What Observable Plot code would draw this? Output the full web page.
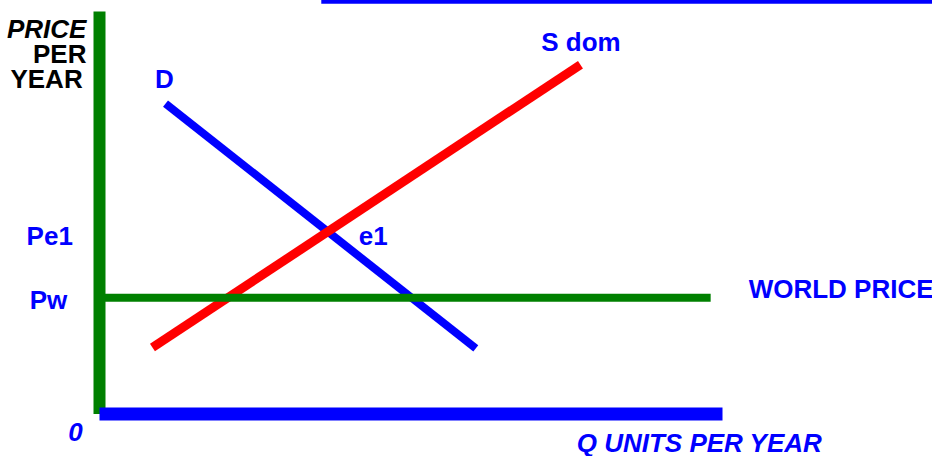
<!DOCTYPE html>
<html>
<head>
<meta charset="utf-8">
<script src="https://cdn.jsdelivr.net/npm/d3@7"></script>
<script src="https://cdn.jsdelivr.net/npm/@observablehq/plot@0.6"></script>
<style>
  html, body { margin: 0; padding: 0; background: #fff; }
  svg { overflow: visible; display: block; }
</style>
</head>
<body>
<div id="chart"></div>
<script>
// Curves (Q units, price units)
const demand = [{q: 10.6, p: 77.1}, {q: 60.4, p: 16.3}];
const supplyDom = [{q: 8.5, p: 16.5}, {q: 77.2, p: 86.8}];
const worldPrice = [{q: 0, p: 28.9}, {q: 98.1, p: 28.9}];
const topRule = [{q: 35.6, p: 102.7}, {q: 135, p: 102.7}];
const yAxisLine = [{q: 0, p: 0}, {q: 0, p: 100}];
const xAxisLine = [{q: 0, p: 0}, {q: 100, p: 0}];

// Text labels
const blackLabels = [
  {q: -2.1, p: 93.5, text: "PRICE", italic: true},
  {q: -2.1, p: 87.1, text: "PER", italic: false},
  {q: -2.7, p: 80.9, text: "YEAR", italic: false}
];
const blueLabels = [
  {q: 10.4, p: 80.9, text: "D", anchor: "middle", italic: false},
  {q: 70.9, p: 90.3, text: "S dom", anchor: "start", italic: false},
  {q: 41.6, p: 41.9, text: "e1", anchor: "start", italic: false},
  {q: -11.7, p: 41.9, text: "Pe1", anchor: "start", italic: false},
  {q: -11.2, p: 26.2, text: "Pw", anchor: "start", italic: false},
  {q: 104.2, p: 28.9, text: "WORLD PRICE", anchor: "start", italic: false},
  {q: -5.0, p: -6.6, text: "0", anchor: "start", italic: true},
  {q: 76.6, p: -9.5, text: "Q UNITS PER YEAR", anchor: "start", italic: true}
];

const font = "'Liberation Sans', Arial, sans-serif";
const BLUE = "#0000ff", RED = "#ff0000", GREEN = "#008000";

function textMarks(data, fill, anchorDefault) {
  const out = [];
  const groups = d3.groups(data, d => (d.anchor || anchorDefault) + "|" + d.italic);
  for (const [key, arr] of groups) {
    const [anchor, it] = key.split("|");
    out.push(Plot.text(arr, {
      x: "q", y: "p", text: "text",
      textAnchor: anchor, lineAnchor: "bottom",
      fill, fontSize: 26, fontWeight: "bold", fontFamily: font,
      fontStyle: it === "true" ? "italic" : "normal"
    }));
  }
  return out;
}

const chart = Plot.plot({
  width: 932,
  height: 456,
  marginLeft: 99,
  marginRight: 210,
  marginTop: 11,
  marginBottom: 42.5,
  x: {domain: [0, 100], axis: null},
  y: {domain: [0, 100], axis: null},
  style: {background: "#fff", overflow: "visible"},
  marks: [
    Plot.line(topRule, {x: "q", y: "p", stroke: BLUE, strokeWidth: 6, strokeLinecap: "butt"}),
    Plot.line(demand, {x: "q", y: "p", stroke: BLUE, strokeWidth: 8, strokeLinecap: "butt"}),
    Plot.line(supplyDom, {x: "q", y: "p", stroke: RED, strokeWidth: 9, strokeLinecap: "butt"}),
    Plot.line(worldPrice, {x: "q", y: "p", stroke: GREEN, strokeWidth: 8, strokeLinecap: "butt"}),
    Plot.line(yAxisLine, {x: "q", y: "p", stroke: GREEN, strokeWidth: 12, strokeLinecap: "butt"}),
    Plot.line(xAxisLine, {x: "q", y: "p", stroke: BLUE, strokeWidth: 13, strokeLinecap: "butt"}),
    ...textMarks(blackLabels, "#000", "end"),
    ...textMarks(blueLabels, BLUE, "start")
  ]
});
document.getElementById("chart").append(chart);
</script>
</body>
</html>
